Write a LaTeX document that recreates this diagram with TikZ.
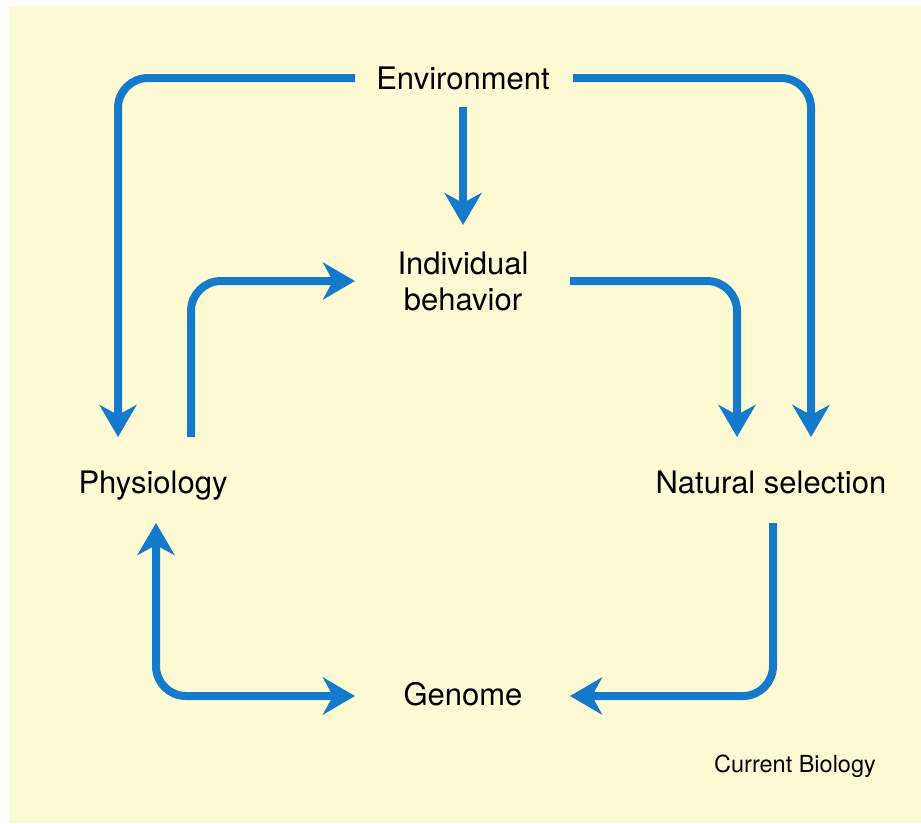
\documentclass[tikz,border=0pt]{standalone}
\usepackage{fontspec}
\setmainfont{TeX Gyre Heros}
\usetikzlibrary{arrows.meta}
\definecolor{bgyellow}{RGB}{254,251,212}
\definecolor{arrblue}{RGB}{20,122,204}
\tikzset{
  lbltwo/.style={inner sep=0pt, align=center, font=\fontsize{31}{36}\selectfont, text=black},
  lbl/.style={inner sep=0pt, font=\fontsize{31}{36}\selectfont, text=black, text height=22pt, text depth=0pt},
  small/.style={inner sep=0pt, font=\fontsize{23.5}{28}\selectfont, text=black, text height=17pt, text depth=0pt},
  conn/.style={draw=arrblue, line width=8pt, rounded corners=30pt,
    -{Stealth[length=32pt, width=37pt, inset=10pt]}},
  conn2/.style={conn, {Stealth[length=32pt, width=37pt, inset=10pt]}-{Stealth[length=32pt, width=37pt, inset=10pt]}}
}
\begin{document}
\begin{tikzpicture}[x=1pt, y=-1pt]
\useasboundingbox (0,0) rectangle (921,823);
\fill[bgyellow] (9,6) rectangle (921,823);
\node[lbl] (env) at (463,78) {Environment};
\node[lbltwo] (ind) at (463,281) {Individual\\behavior};
\node[lbl] (phys) at (153,482) {Physiology};
\node[lbl] (nat) at (771,482) {Natural selection};
\node[lbl] (gen) at (463,694) {Genome};
\node[small] (cb) at (795,764) {Current Biology};
% Environment -> Physiology
\draw[conn] ([xshift=-108pt]env.center) -| ([xshift=-35pt,yshift=45pt]phys.center);
% Environment -> Natural selection
\draw[conn] ([xshift=110pt]env.center) -| ([xshift=40pt,yshift=45pt]nat.center);
% Environment -> Individual behavior
\draw[conn] ([yshift=-29pt]env.center) -- ([yshift=56pt]ind.center);
% Physiology -> Individual behavior
\draw[conn] ([xshift=38pt,yshift=45pt]phys.center) |- ([xshift=-108pt]ind.center);
% Individual behavior -> Natural selection
\draw[conn] ([xshift=107pt]ind.center) -| ([xshift=-34pt,yshift=45pt]nat.center);
% Physiology <-> Genome
\draw[conn2] ([xshift=3pt,yshift=-41pt]phys.center) |- ([xshift=-108pt,yshift=-2pt]gen.center);
% Natural selection -> Genome
\draw[conn] ([xshift=2pt,yshift=-41pt]nat.center) |- ([xshift=107pt,yshift=-2pt]gen.center);
\end{tikzpicture}
\end{document}
